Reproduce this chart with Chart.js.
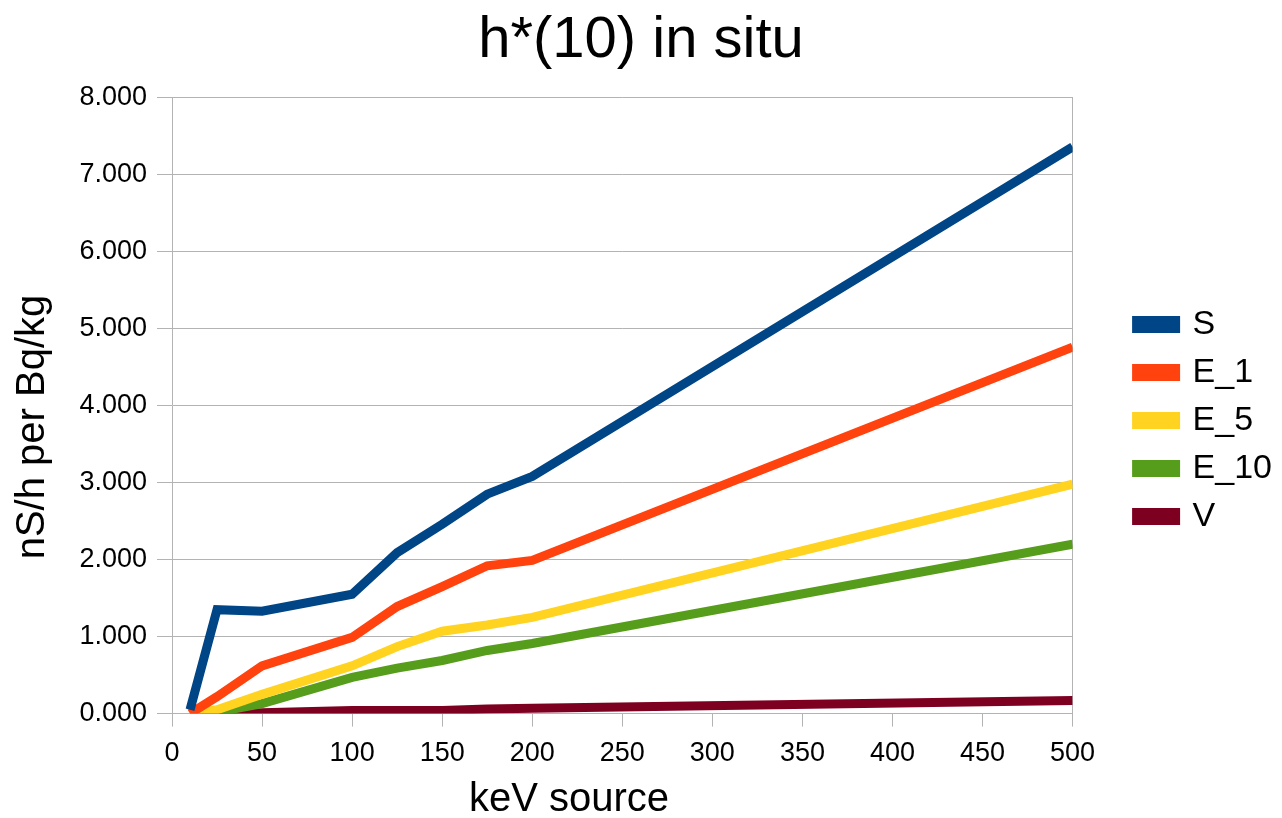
<!DOCTYPE html>
<html>
<head>
<meta charset="utf-8">
<title>h*(10) in situ</title>
<script src="https://cdn.jsdelivr.net/npm/chart.js@4.4.1/dist/chart.umd.min.js"></script>
<style>
    html, body { margin: 0; padding: 0; background: #ffffff; }
    .chart-wrapper { width: 1282px; height: 818px; position: relative; }
</style>
</head>
<body>
<div class="chart-wrapper">
    <canvas id="lineChart"></canvas>
</div>
<script>
/*** Data ***/
const energies = [10, 25, 50, 100, 125, 150, 175, 200, 500];
const sValues   = [0.05, 1.35, 1.33, 1.55, 2.09, 2.46, 2.85, 3.08, 7.36];
const e1Values  = [0.00, 0.22, 0.62, 0.99, 1.39, 1.65, 1.92, 1.99, 4.76];
const e5Values  = [0.00, 0.05, 0.25, 0.62, 0.87, 1.07, 1.15, 1.25, 2.98];
const e10Values = [0.00, 0.02, 0.13, 0.47, 0.59, 0.69, 0.82, 0.91, 2.20];
const vValues   = [0.00, 0.00, 0.01, 0.04, 0.04, 0.04, 0.06, 0.07, 0.17];
const seriesNames = ['S', 'E_1', 'E_5', 'E_10', 'V'];

/*** Colors ***/
const seriesColors = ['#004586', '#ff420e', '#ffd320', '#579d1c', '#7e0021'];
const gridColor = '#b3b3b3';
const textColor = '#000000';
const fontFamily = "'Liberation Sans', Arial, sans-serif";

// pair x values with a series
const toPoints = (values) => values.map((v, i) => ({ x: energies[i], y: v }));

const allValues = [sValues, e1Values, e5Values, e10Values, vValues];
const datasets = allValues.map((values, i) => ({
    label: seriesNames[i],
    data: toPoints(values),
    borderColor: seriesColors[i],
    backgroundColor: seriesColors[i],
    borderWidth: 9,
    borderCapStyle: 'butt',
    borderJoinStyle: 'miter',
    pointRadius: 0,
    tension: 0,
    fill: false,
}));

// Axis titles are centred on the whole plot block, not on the scale
const axisTitles = {
    id: 'axisTitles',
    afterDraw(chart) {
        const ctx = chart.ctx;
        ctx.save();
        ctx.fillStyle = textColor;
        ctx.font = `40px ${fontFamily}`;
        ctx.textAlign = 'center';
        ctx.textBaseline = 'middle';
        ctx.fillText('keV source', 569, 800);
        ctx.translate(33, 427);
        ctx.rotate(-Math.PI / 2);
        ctx.fillText('nS/h per Bq/kg', 0, 0);
        ctx.restore();
    }
};

const lineChart = document.getElementById('lineChart').getContext('2d');

const insituChart = new Chart(lineChart, {
    type: 'line',
    data: { datasets: datasets },
    options: {
        responsive: true,
        maintainAspectRatio: false,
        animation: false,
        layout: {
            padding: { left: 0, right: 0, top: 0, bottom: 37 }
        },
        plugins: {
            title: {
                display: true,
                text: 'h*(10) in situ',
                color: textColor,
                font: { size: 58, weight: 'normal', family: fontFamily },
                padding: { top: 6, bottom: 22 },
            },
            legend: {
                position: 'right',
                // empty title only pushes the items down a bit
                title: {
                    display: true,
                    text: ' ',
                    font: { size: 10 },
                    padding: { top: 48, bottom: 0 },
                },
                labels: {
                    color: textColor,
                    boxWidth: 39,
                    boxHeight: 8,
                    padding: 14,
                    font: { size: 34, family: fontFamily },
                },
            },
            tooltip: { enabled: false },
        },
        scales: {
            x: {
                type: 'linear',
                min: 0,
                max: 500,
                grid: {
                    color: gridColor,
                    drawOnChartArea: false,
                    drawTicks: true,
                    tickLength: 13,
                },
                border: { color: gridColor },
                ticks: {
                    stepSize: 50,
                    color: textColor,
                    padding: 11,
                    maxRotation: 0,
                    font: { size: 27, family: fontFamily },
                },
            },
            y: {
                min: 0,
                max: 8,
                grid: {
                    color: gridColor,
                    tickLength: 15,
                },
                border: { color: gridColor },
                ticks: {
                    stepSize: 1,
                    color: textColor,
                    padding: 10,
                    font: { size: 27, family: fontFamily },
                    callback: (value) => value.toFixed(3),
                },
                afterFit: (scale) => { scale.width = 172; },
            },
            // right frame line of the plot
            yRight: {
                position: 'right',
                min: 0,
                max: 8,
                grid: { display: false },
                ticks: { display: false },
                border: { display: true, color: gridColor },
                afterFit: (scale) => { scale.width = 50; },
            },
        }
    },
    plugins: [axisTitles]
});
</script>
</body>
</html>
